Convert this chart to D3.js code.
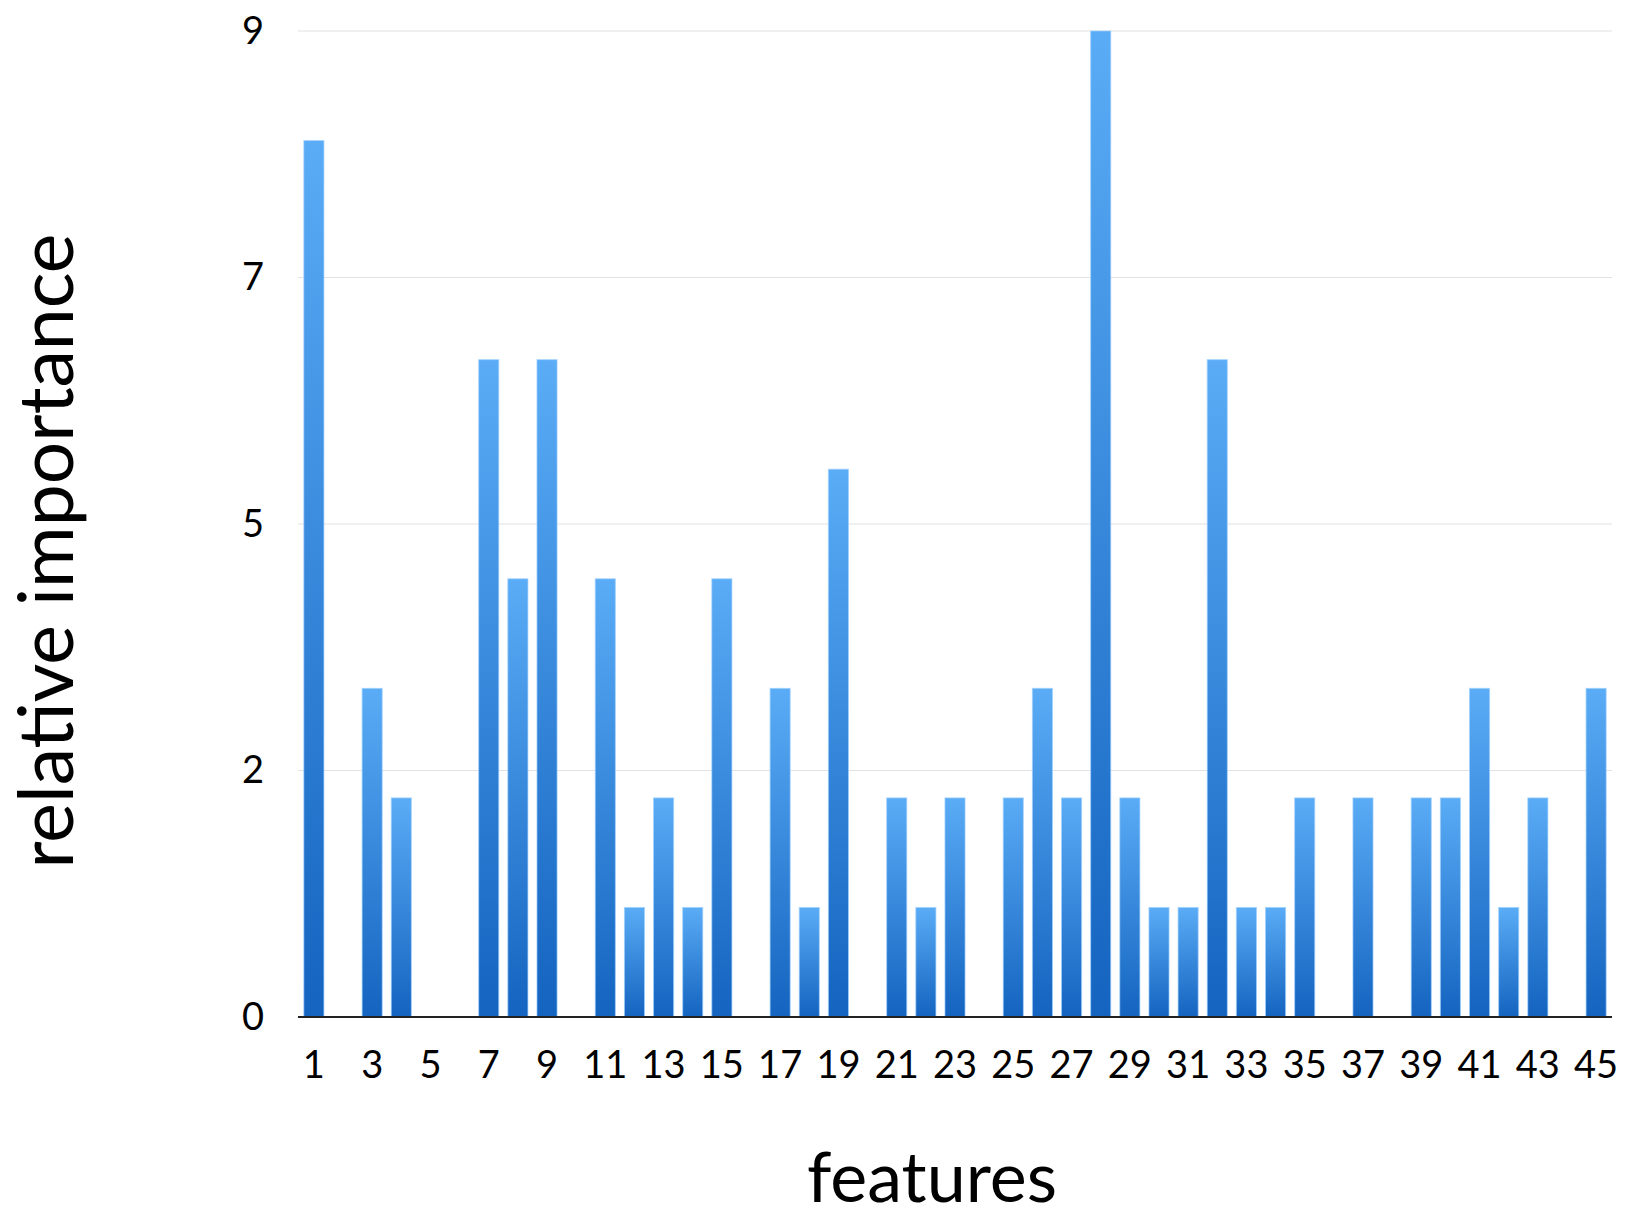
<!DOCTYPE html>
<html>
<head>
<meta charset="utf-8">
<script src="https://cdn.jsdelivr.net/npm/d3@7"></script>
<style>
  html, body { margin: 0; padding: 0; background: #fff; }
  svg { display: block; }
  text { font-family: Lato, "Open Sans", sans-serif; fill: #000; }
</style>
</head>
<body>
<svg id="chart" width="1626" height="1217"></svg>
<script>
// Feature indices 1..45 and their relative importance scores
const features = d3.range(1, 46);
const importance = [8, 0, 3, 2, 0, 0, 6, 4, 6, 0,
                    4, 1, 2, 1, 4, 0, 3, 1, 5, 0,
                    2, 1, 2, 0, 2, 3, 2, 9, 2, 1,
                    1, 6, 1, 1, 2, 0, 2, 0, 2, 2,
                    3, 1, 2, 0, 3];
// Y ticks sit at quarters of the 0–9 range and are shown rounded
const yTicks = [0, 2.25, 4.5, 6.75, 9];
const yTickLabels = ["0", "2", "5", "7", "9"];
const xTickLabels = features.filter(f => f % 2 === 1);

const svg = d3.select("#chart");
const plotLeft = 298, plotRight = 1612, plotTop = 31, plotBottom = 1017;

const x = d3.scaleBand()
  .domain(features)
  .range([plotLeft, plotRight])
  .paddingInner(0.31)
  .paddingOuter(0.2);

const y = d3.scaleLinear().domain([0, 9]).range([plotBottom, plotTop]);

// Per-bar vertical gradient
const defs = svg.append("defs");
const grad = defs.append("linearGradient")
  .attr("id", "barGrad")
  .attr("x1", 0).attr("y1", 0).attr("x2", 0).attr("y2", 1);
grad.append("stop").attr("offset", "0%").attr("stop-color", "#5aacf6");
grad.append("stop").attr("offset", "100%").attr("stop-color", "#1464c0");

// Gridlines
svg.append("g")
  .selectAll("line")
  .data(yTicks.filter(t => t > 0))
  .join("line")
  .attr("x1", plotLeft).attr("x2", plotRight)
  .attr("y1", d => y(d)).attr("y2", d => y(d))
  .attr("stroke", "#e2e2e2")
  .attr("stroke-width", 1.2);

// Bars
svg.append("g")
  .selectAll("rect")
  .data(features.map((f, i) => ({ f, v: importance[i] })).filter(d => d.v > 0))
  .join("rect")
  .attr("x", d => x(d.f))
  .attr("width", x.bandwidth())
  .attr("y", d => y(d.v))
  .attr("height", d => y(0) - y(d.v))
  .attr("fill", "url(#barGrad)")
  .attr("stroke", "#9fd0ff")
  .attr("stroke-opacity", 0.7)
  .attr("stroke-width", 1);

// Baseline
svg.append("line")
  .attr("x1", plotLeft).attr("x2", plotRight)
  .attr("y1", plotBottom).attr("y2", plotBottom)
  .attr("stroke", "#222")
  .attr("stroke-width", 2);

// Y axis labels
const yAxis = d3.axisLeft(y)
  .tickValues(yTicks)
  .tickFormat((d, i) => yTickLabels[i])
  .tickSize(0)
  .tickPadding(0);
const gy = svg.append("g").attr("transform", `translate(${plotLeft - 34},0)`).call(yAxis);
gy.select(".domain").remove();
gy.selectAll("text")
  .attr("font-size", 38)
  .attr("font-family", "Lato, sans-serif")
  .attr("fill", "#000");

// X axis labels
const xAxis = d3.axisBottom(x)
  .tickValues(xTickLabels)
  .tickSize(0)
  .tickPadding(0);
const gx = svg.append("g").attr("transform", `translate(0,${plotBottom + 34})`).call(xAxis);
gx.select(".domain").remove();
gx.selectAll("text")
  .attr("font-size", 38)
  .attr("font-family", "Lato, sans-serif")
  .attr("fill", "#000");

// Axis titles
svg.append("text")
  .attr("x", 932).attr("y", 1202)
  .attr("text-anchor", "middle")
  .attr("font-size", 70)
  .text("features");

svg.append("text")
  .attr("transform", "translate(73,551) rotate(-90)")
  .attr("text-anchor", "middle")
  .attr("font-size", 75)
  .text("relative importance");
</script>
</body>
</html>
